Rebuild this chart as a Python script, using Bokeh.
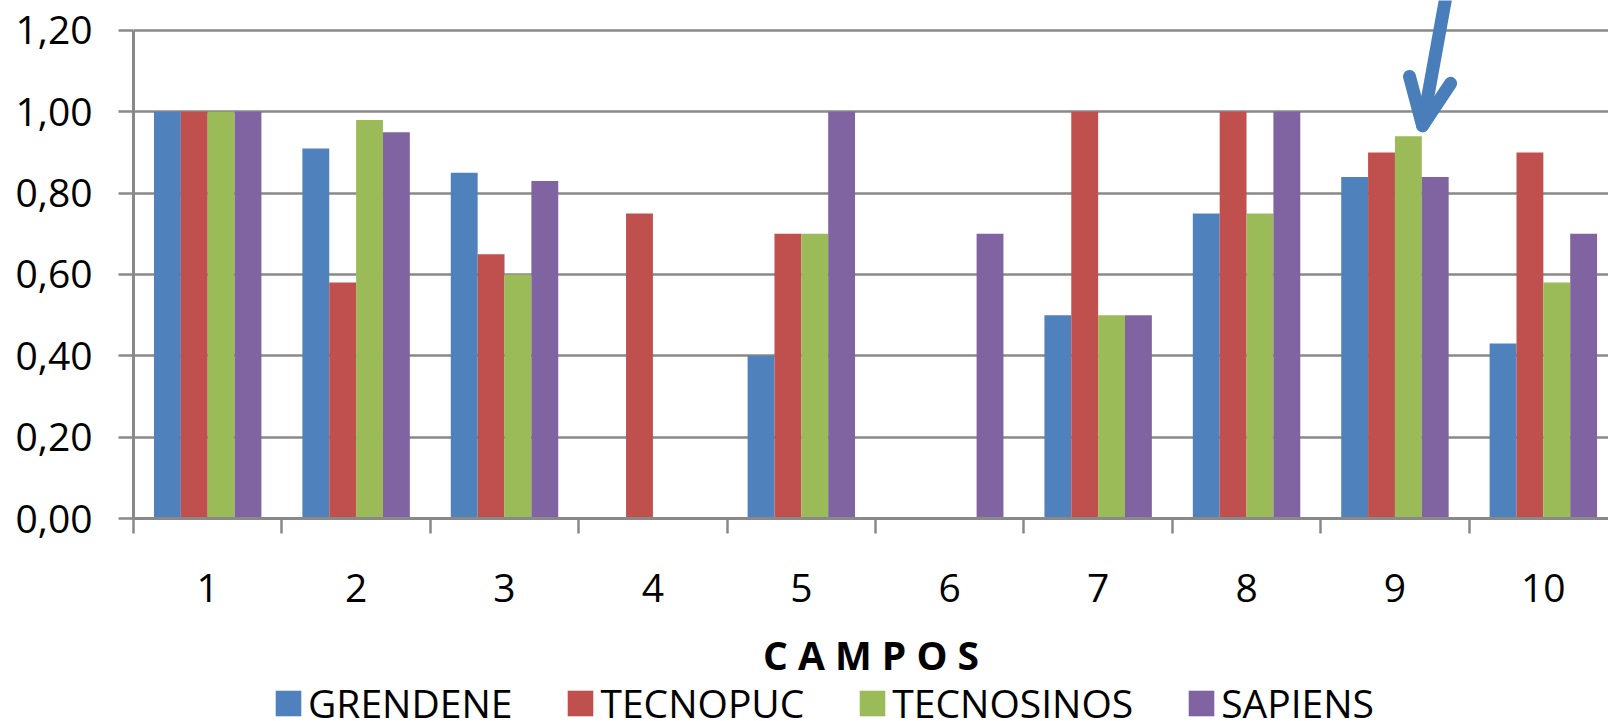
from bokeh.plotting import figure
from bokeh.models import Range1d, FixedTicker, Legend, LegendItem, ColumnDataSource
from bokeh.layouts import column
from bokeh.transform import dodge
from bokeh.embed import file_html
from bokeh.resources import INLINE

categories = ["1", "2", "3", "4", "5", "6", "7", "8", "9", "10"]
series_names = ["GRENDENE", "TECNOPUC", "TECNOSINOS", "SAPIENS"]
grendene = [1.00, 0.91, 0.85, 0.00, 0.40, 0.00, 0.50, 0.75, 0.84, 0.43]
tecnopuc = [1.00, 0.58, 0.65, 0.75, 0.70, 0.00, 1.00, 1.00, 0.90, 0.90]
tecnosinos = [1.00, 0.98, 0.60, 0.00, 0.70, 0.00, 0.50, 0.75, 0.94, 0.58]
sapiens = [1.00, 0.95, 0.83, 0.00, 1.00, 0.70, 0.50, 1.00, 0.84, 0.70]
colors = ["#4F81BD", "#C0504D", "#9BBB59", "#8064A2"]

y_ticks = [0.0, 0.2, 0.4, 0.6, 0.8, 1.0, 1.2]
y_tick_labels = ["0,00", "0,20", "0,40", "0,60", "0,80", "1,00", "1,20"]
x_title = "C A M P O S"

# annotation arrow (points toward TECNOSINOS bar in category 9)
arrow_shaft_x = [8.862, 8.686]
arrow_shaft_y = [1.32, 0.966]
arrow_head_x = [8.598, 8.686, 8.875]
arrow_head_y = [1.087, 0.966, 1.070]

centers = [i + 0.5 for i in range(len(categories))]
bounds = [float(i) for i in range(len(categories) + 1)]

src = ColumnDataSource(dict(x=centers, GRENDENE=grendene, TECNOPUC=tecnopuc,
                            TECNOSINOS=tecnosinos, SAPIENS=sapiens))

FONT = "Open Sans"
GRAY = "#898989"

p = figure(width=1608, height=625, output_backend="svg", toolbar_location=None,
           x_range=Range1d(0, 9.939), y_range=Range1d(0, 1.2737),
           min_border_left=133, min_border_right=0, min_border_top=0,
           min_border_bottom=107)
p.outline_line_color = None
p.background_fill_color = "white"

bw = 0.181
offsets = [-1.5 * bw, -0.5 * bw, 0.5 * bw, 1.5 * bw]
for name, c, off in zip(series_names, colors, offsets):
    p.vbar(x=dodge("x", off, range=p.x_range), top=name, width=bw, source=src,
           fill_color=c, line_color=None)

# arrow annotation
p.line(arrow_shaft_x, arrow_shaft_y, line_color="#4A7EBB", line_width=13, line_cap="round")
p.line(arrow_head_x, arrow_head_y, line_color="#4A7EBB", line_width=13, line_cap="round",
       line_join="round")

# y axis
yt = FixedTicker(ticks=y_ticks)
p.yaxis.ticker = yt
p.yaxis.bounds = (0, 1.2)
p.yaxis.major_label_overrides = {t: l for t, l in zip(y_ticks, y_tick_labels)}
p.yaxis.major_label_text_font = FONT
p.yaxis.major_label_text_font_size = "39px"
p.yaxis.major_label_text_color = "black"
p.yaxis.major_label_standoff = 26
p.yaxis.major_tick_out = 15
p.yaxis.major_tick_in = 0
p.yaxis.minor_tick_line_color = None
p.yaxis.axis_line_color = GRAY
p.yaxis.axis_line_width = 3
p.yaxis.major_tick_line_color = GRAY
p.yaxis.major_tick_line_width = 2.5

p.ygrid.ticker = yt
p.ygrid.grid_line_color = GRAY
p.ygrid.grid_line_width = 2.5
p.xgrid.grid_line_color = None

# x axis
xt = FixedTicker(ticks=centers, minor_ticks=bounds)
p.xaxis.ticker = xt
p.xaxis.major_label_overrides = {c: l for c, l in zip(centers, categories)}
p.xaxis.major_label_text_font = FONT
p.xaxis.major_label_text_font_size = "39px"
p.xaxis.major_label_text_color = "black"
p.xaxis.major_label_standoff = 40
p.xaxis.major_tick_line_color = None
p.xaxis.major_tick_out = 0
p.xaxis.major_tick_in = 0
p.xaxis.minor_tick_out = 15
p.xaxis.minor_tick_in = 0
p.xaxis.minor_tick_line_color = GRAY
p.xaxis.minor_tick_line_width = 2.5
p.xaxis.axis_line_color = GRAY
p.xaxis.axis_line_width = 3

# strip below the chart: axis title + legend
p2 = figure(width=1608, height=96, output_backend="svg", toolbar_location=None,
            x_range=Range1d(0, 1), y_range=Range1d(0, 1),
            min_border_left=133, min_border_right=0, min_border_top=0, min_border_bottom=0)
p2.axis.visible = False
p2.grid.visible = False
p2.outline_line_color = None
p2.title.text = x_title
p2.title.align = "center"
p2.title.offset = -11
p2.title.text_font = FONT
p2.title.text_font_style = "bold"
p2.title.text_font_size = "39px"
p2.title.text_color = "black"
p2.title.standoff = 0

leg_src = ColumnDataSource(dict(x=[0.5], top=[0.0]))
leg_renderers = [p2.vbar(x="x", top="top", width=0.1, source=leg_src, fill_color=c, line_color=None)
                 for c in colors]
legend = Legend(items=[LegendItem(label=n, renderers=[r]) for n, r in zip(series_names, leg_renderers)],
                orientation="horizontal", location=(139, -8),
                glyph_width=32, glyph_height=32, label_height=32,
                label_standoff=4, spacing=52, padding=0, margin=0,
                border_line_color=None, background_fill_alpha=0,
                label_text_font=FONT, label_text_font_size="39px",
                label_text_color="black")
p2.add_layout(legend, "center")

open("out.html", "w").write(file_html(column(p, p2, spacing=0), INLINE))
